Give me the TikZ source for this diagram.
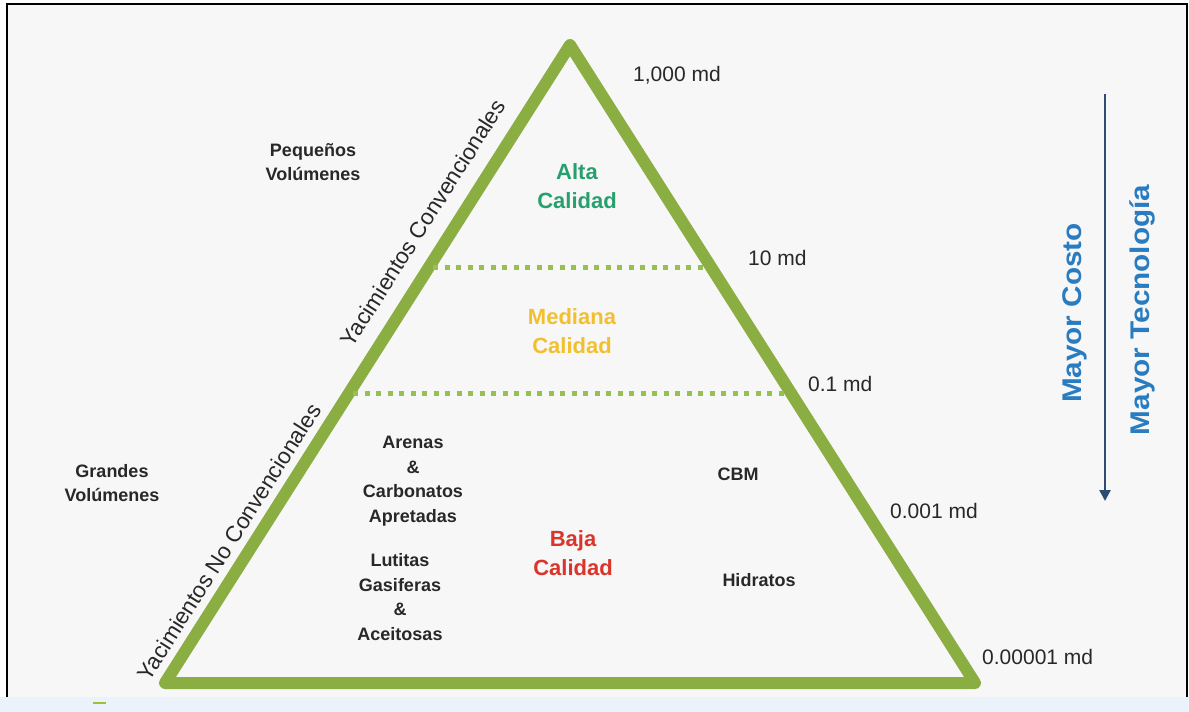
\documentclass[tikz,border=0pt]{standalone}
\usepackage{fontspec}
\setmainfont{Liberation Sans}
\usetikzlibrary{arrows.meta,calc}
\definecolor{trigreen}{RGB}{138,174,66}
\definecolor{dotgreen}{RGB}{150,192,80}
\definecolor{altagreen}{RGB}{40,160,110}
\definecolor{medyellow}{RGB}{242,192,46}
\definecolor{bajared}{RGB}{218,52,43}
\definecolor{mayorblue}{RGB}{42,124,192}
\definecolor{arrowblue}{RGB}{45,75,115}
\definecolor{bgray}{RGB}{247,247,247}
\definecolor{stripblue}{RGB}{236,242,249}
\definecolor{labelgray}{RGB}{40,40,40}
\tikzset{
  num/.style={anchor=west, font=\fontsize{21}{25}\selectfont, text=labelgray, inner sep=0pt},
  blk/.style={align=center, font=\fontsize{18}{24.5}\selectfont\bfseries, text=labelgray, inner sep=0pt},
  qual/.style={align=center, font=\fontsize{22}{28.5}\selectfont\bfseries, inner sep=0pt},
  yac/.style={font=\fontsize{22.5}{26}\selectfont, text=labelgray, rotate=57.6, inner sep=0pt},
  mayor/.style={font=\fontsize{27}{30}\selectfont\bfseries, text=mayorblue, rotate=90, inner sep=0pt},
  tri/.style={draw=trigreen, line width=12pt, line join=round},
  dotline/.style={draw=dotgreen, line width=5pt, dash pattern=on 5pt off 6.5pt}
}
\begin{document}
\begin{tikzpicture}[x=1pt,y=-1pt]
\useasboundingbox (0,0) rectangle (1189,712);
% backgrounds and frame
\fill[white] (0,0) rectangle (1189,712);
\fill[bgray] (7,4) rectangle (1187,697);
\fill[stripblue] (0,697) rectangle (1189,712);
\draw[black, line width=2.2pt] (7,697) -- (7,4) -- (1187,4) -- (1187,697);
\draw[trigreen!80!yellow, line width=2pt] (93,703) -- (106,703);
% triangle
\coordinate (BL) at (165,683);
\coordinate (AP) at (570,45);
\coordinate (BR) at (975,683);
\draw[tri] (BL) -- (AP) -- (BR) -- cycle;
% dotted level lines
\coordinate (d1l) at (433,267);
\coordinate (d1r) at (707,267);
\coordinate (d2l) at (353,393);
\coordinate (d2r) at (787,393);
\draw[dotline] (d1l) -- (d1r);
\draw[dotline] (d2l) -- (d2r);
% permeability labels
\node[num] (n1) at (633,75) {1,000 md};
\node[num] (n2) at (748,258) {10 md};
\node[num] (n3) at (808,384) {0.1 md};
\node[num] (n4) at (890,511) {0.001 md};
\node[num] (n5) at (982,657) {0.00001 md};
% quality labels
\node[qual, text=altagreen] (alta) at (577,186) {Alta\\Calidad};
\node[qual, text=medyellow] (med) at (572,331) {Mediana\\Calidad};
\node[qual, text=bajared] (baja) at (573,553) {Baja\\Calidad};
% side labels
\node[blk] (peq) at (313,162) {Pequeños\\Volúmenes};
\node[blk] (gra) at (112,483) {Grandes\\Volúmenes};
\node[blk] (are) at (413,481) {Arenas\\\&\\Carbonatos\\Apretadas};
\node[blk] (lut) at (400,597) {Lutitas\\Gasiferas\\\&\\Aceitosas};
\node[blk] (cbm) at (738,474) {CBM};
\node[blk] (hid) at (759,580) {Hidratos};
% rotated labels along left edge
\node[yac] (yc) at (423,223) {Yacimientos Convencionales};
\node[yac] (ync) at (229,542) {Yacimientos No Convencionales};
% right side arrow and labels
\coordinate (at) at (1105,94);
\coordinate (ab) at (1105,501);
\draw[arrowblue, line width=2.5pt, -{Triangle[length=11pt,width=11pt]}] (at) -- (ab);
\node[mayor] (mc) at (1075,313) {\scalebox{1.1}[1]{Mayor Costo}};
\node[mayor] (mt) at (1142,310) {\scalebox{1.1}[1]{Mayor Tecnología}};
\end{tikzpicture}
\end{document}
